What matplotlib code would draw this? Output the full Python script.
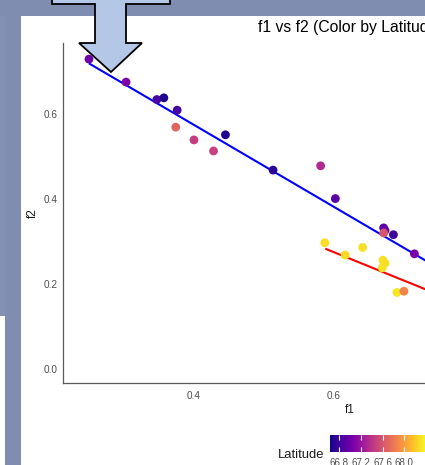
import matplotlib
matplotlib.use('Agg')
import matplotlib.pyplot as plt
import numpy as np
from matplotlib.patches import Polygon, Rectangle
from matplotlib.colors import Normalize

plt.rcParams['font.family'] = ['Liberation Sans', 'DejaVu Sans']

# ---------------- data ----------------
f1 = [0.250, 0.303, 0.347, 0.357, 0.376, 0.374, 0.400, 0.428, 0.445, 0.513,
      0.581, 0.602, 0.671, 0.673, 0.671, 0.685, 0.715,
      0.587, 0.616, 0.641, 0.670, 0.673, 0.669, 0.690, 0.700]
f2 = [0.729, 0.675, 0.634, 0.638, 0.609, 0.569, 0.539, 0.513, 0.551, 0.468,
      0.478, 0.401, 0.332, 0.326, 0.320, 0.316, 0.271,
      0.297, 0.268, 0.286, 0.256, 0.249, 0.238, 0.180, 0.183]
latitude = [67.00, 67.07, 66.84, 66.68, 66.84, 67.69, 67.46, 67.48, 66.68, 66.72,
            67.34, 66.91, 66.91, 66.98, 67.60, 66.79, 67.05,
            68.28, 68.27, 68.30, 68.29, 68.29, 68.31, 68.32, 67.87]

fit_color = ['#0000ff', '#ff0000']
fit_slope = [-0.9646, -0.667]
fit_intercept = [0.9602, 0.675]
fit_x_start = [0.250, 0.5876]
fit_x_end = [0.85, 0.80]

x_ticks = [0.4, 0.6]
y_ticks = [0.0, 0.2, 0.4, 0.6]
cbar_ticks = [66.8, 67.2, 67.6, 68.0]
lat_range = (66.63, 68.40)
title = 'f1 vs f2 (Color by Latitude)'
x_label = 'f1'
y_label = 'f2'
legend_title = 'Latitude'

# ---------------- layout ----------------
W, H = 425, 465
fig = plt.figure(figsize=(W / 100, H / 100), dpi=100)
fig.patch.set_facecolor('white')


def fx(px):
    return px / W


def fy(py):
    return 1 - py / H


# background frame
bg = fig.add_axes([0, 0, 1, 1], zorder=0)
bg.set_xlim(0, W)
bg.set_ylim(H, 0)
bg.axis('off')
band = '#7f8eb0'
bg.add_patch(Rectangle((0, 0), W, 16, color=band, lw=0))
bg.add_patch(Rectangle((0, 0), 21, H, color=band, lw=0))
bg.add_patch(Rectangle((0, 16), 5, 300, color='#8391b3', lw=0))
bg.add_patch(Rectangle((0, 316), 5, H - 316, color='white', lw=0))

# main axes (extends past the right edge: the picture is a crop)
ax_left, ax_right, ax_top, ax_bottom = 63, 637, 43, 383
ax = fig.add_axes([fx(ax_left), fy(ax_bottom), (ax_right - ax_left) / W,
                   (ax_bottom - ax_top) / H], zorder=1)
ax.patch.set_alpha(0)

norm = Normalize(*lat_range)
for c, m, b, x0, x1 in zip(fit_color, fit_slope, fit_intercept, fit_x_start, fit_x_end):
    xs = np.array([x0, x1])
    ax.plot(xs, m * xs + b, color=c, lw=1.5, zorder=2, solid_capstyle='butt')

sc = ax.scatter(f1, f2, c=latitude, cmap='plasma', norm=norm, s=40,
                linewidths=0, zorder=3)

ax.set_xlim(0.2129, 1.033)
ax.set_ylim(-0.0329, 0.767)
ax.set_xticks(x_ticks)
ax.set_yticks(y_ticks)
ax.set_xticklabels([f'{v:.1f}' for v in x_ticks])
ax.set_yticklabels([f'{v:.1f}' for v in y_ticks])
for s in ('top', 'right'):
    ax.spines[s].set_visible(False)
for s in ('left', 'bottom'):
    ax.spines[s].set_color('#5a5a5a')
    ax.spines[s].set_linewidth(0.9)
ax.tick_params(axis='both', length=0, labelsize=7.2, labelcolor='#4d4d4d')
ax.tick_params(axis='x', pad=6)
ax.tick_params(axis='y', pad=3.6)

ax.set_xlabel(x_label, fontsize=8.5, color='#1a1a1a')
ax.xaxis.set_label_coords(0.5, -(410 - ax_bottom) / (ax_bottom - ax_top))
ax.xaxis.label.set_va('center')
ax.set_ylabel(y_label, fontsize=8.5, color='#1a1a1a')
ax.yaxis.set_label_coords(-(ax_left - 33) / (ax_right - ax_left), 0.5)
ax.yaxis.label.set_va('center')

ax.set_title(title, fontsize=11.3, pad=0, y=(ax_bottom - 32) / (ax_bottom - ax_top),
             color='black')

# colour bar
cax = fig.add_axes([fx(330), fy(452), 96 / W, 17 / H], zorder=2)
cb = fig.colorbar(sc, cax=cax, orientation='horizontal', ticks=cbar_ticks)
cb.outline.set_visible(False)
cax.set_xticklabels([f'{v:.1f}' for v in cbar_ticks])
cax.xaxis.set_ticks_position('both')
cax.tick_params(axis='x', direction='in', length=3.5, width=0.8, color='white',
                labelsize=7.0, labelcolor='#4d4d4d', pad=4.5)
fig.text(fx(324), fy(457.5), legend_title, ha='right', va='baseline',
         fontsize=9.4, color='#1a1a1a')

# block arrow overlay
ov = fig.add_axes([0, 0, 1, 1], zorder=5)
ov.set_xlim(0, W)
ov.set_ylim(H, 0)
ov.axis('off')
ov.patch.set_alpha(0)
arrow = [(52, -5), (52, 4), (95, 4), (95, 43), (79, 43), (111, 72),
         (142, 43), (126, 43), (126, 4), (170, 4), (170, -5)]
ov.add_patch(Polygon(arrow, closed=True, fc='#b4c7e7', ec='black', lw=1.3,
                     joinstyle='miter'))

fig.savefig('out.png', dpi=100)
